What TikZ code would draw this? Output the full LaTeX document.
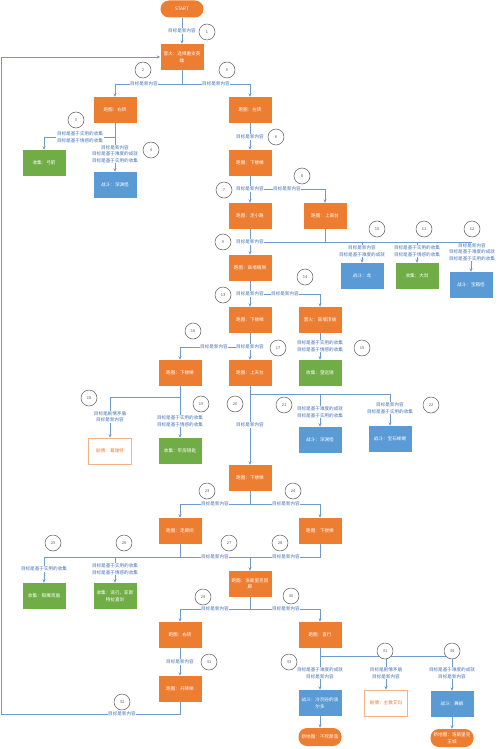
\documentclass[tikz,border=0pt]{standalone}
\usepackage{fontspec}
\setmainfont{Noto Sans CJK SC}
\usetikzlibrary{arrows.meta}
\definecolor{orC}{RGB}{237,125,49}
\definecolor{grC}{RGB}{112,173,71}
\definecolor{blC}{RGB}{91,155,213}
\definecolor{plC}{RGB}{244,177,131}
\definecolor{lnC}{RGB}{110,155,205}
\definecolor{labC}{RGB}{70,115,180}
\definecolor{numC}{RGB}{90,90,90}
\begin{document}
\begin{tikzpicture}[x=1pt,y=-1pt,
 base/.style={rectangle, minimum width=43pt, minimum height=26pt, inner sep=1pt, align=center, font=\fontsize{4.6}{6.5}\selectfont, text=white},
 obox/.style={base, fill=orC},
 gbox/.style={base, fill=grC},
 bbox/.style={base, fill=blC},
 pbox/.style={base, fill=white, draw=plC, line width=0.6pt, text=orC},
 stad/.style={base, fill=orC, rounded corners=8.5pt, minimum height=17pt},
 lab/.style={fill=white, inner sep=0.6pt, align=center, font=\fontsize{4.6}{6.5}\selectfont, text=labC},
 num/.style={circle, draw=numC, line width=0.5pt, minimum size=16pt, inner sep=0pt, font=\fontsize{4}{4}\selectfont, text=numC, fill=white},
 ln/.style={draw=lnC, line width=0.6pt},
 ar/.style={ln, -{Stealth[length=3.5pt,width=3pt]}},
]
\useasboundingbox (0,0) rectangle (500,749);
% nodes
\node[stad] (start) at (182,9) {START};
\node[obox] (yh) at (182,57) {营火：选择重支英\\雄};
\node[obox] (rz1) at (115,110) {跑图：右转};
\node[obox] (zz) at (250,110) {跑图：左转};
\node[gbox] (gj) at (44,163) {收集：弓箭};
\node[bbox] (sy1) at (115,185) {战斗：深渊怪};
\node[obox] (xlt1) at (250,163) {跑图：下楼梯};
\node[obox] (zxl) at (250,216) {跑图：走小路};
\node[obox] (sgt) at (325,216) {跑图：上高台};
\node[bbox] (long) at (362,276) {战斗：龙};
\node[gbox] (dj) at (417,276) {收集：大剑};
\node[bbox] (bxg) at (471,285) {战斗：宝箱怪};
\node[obox] (gqfx) at (250,268) {跑图：高墙缝隙};
\node[obox] (xlt2) at (250,320) {跑图：下楼梯};
\node[obox] (gqdd) at (320,320) {营火：高墙顶端};
\node[gbox] (wyj) at (320,373) {收集：望远镜};
\node[obox] (xlt3) at (180,373) {跑图：下楼梯};
\node[obox] (std) at (250,373) {跑图：上天台};
\node[pbox] (jq1) at (110,451) {剧情：葛瑞特};
\node[gbox] (yc) at (180,451) {收集：牢房钥匙};
\node[bbox] (sy2) at (320,440) {战斗：深渊怪};
\node[bbox] (bsxy) at (390,439) {战斗：宝石蜥蜴};
\node[obox] (xlt4) at (250,478) {跑图：下楼梯};
\node[obox] (zlj) at (180,531) {跑图：走廊间};
\node[obox] (xlt5) at (320,531) {跑图：下楼梯};
\node[gbox] (yd) at (44,596) {收集：银鹰鸢盾};
\node[gbox] (lr) at (115,596) {收集：浪刃、亚斯\\特拉直剑};
\node[obox] (hl) at (250,584) {跑图：洛斯里克回\\廊};
\node[obox] (rz2) at (180,635) {跑图：右转};
\node[obox] (zx) at (320,635) {跑图：直行};
\node[obox] (sjt) at (180,689) {跑图：升降梯};
\node[bbox] (bed) at (320,703) {战斗：冷冽谷的波\\尔多};
\node[pbox] (emma) at (386,703) {剧情：主教艾玛};
\node[bbox] (wn) at (452,704) {战斗：舞娘};
\node[stad, minimum height=18pt] (ud) at (320,737) {新地图：不死聚落};
\node[stad, minimum height=18pt] (lc) at (452,738) {新地图：洛斯里克\\王城};
% junctions
\coordinate (j2) at (182,84);
\coordinate (j3) at (115,137);
\coordinate (j6) at (250,189);
\coordinate (j7) at (250,242);
\coordinate (j9) at (250,294);
\coordinate (j11) at (250,347);
\coordinate (j12) at (180,397);
\coordinate (j13) at (250,394);
\coordinate (j14) at (250,504);
\coordinate (j15) at (180,557);
\coordinate (k15) at (250,557);
\coordinate (j16) at (250,609);
\coordinate (j19) at (320,656);
\coordinate (f1) at (180,714);
\coordinate (f2) at (1.5,714);
\coordinate (f3) at (1.5,57);
% connectors
\draw[ar] (start) -- (yh);
\draw[ln] (yh.south) -- (j2);
\draw[ar] (j2) -| (rz1.north);
\draw[ar] (j2) -| (zz.north);
\draw[ar] (rz1.south) -- (sy1.north);
\draw[ar] (j3) -| (gj.north);
\draw[ar] (zz) -- (xlt1);
\draw[ar] (xlt1) -- (zxl);
\draw[ar] (j6) -| (sgt.north);
\draw[ar] (zxl) -- (gqfx);
\draw[ln] (sgt.south) -- (sgt.south |- j7);
\draw[ar] (j7) -| (long.north);
\draw[ar] (j7) -| (dj.north);
\draw[ar] (j7) -| (bxg.north);
\draw[ar] (gqfx) -- (xlt2);
\draw[ar] (j9) -| (gqdd.north);
\draw[ar] (gqdd) -- (wyj);
\draw[ar] (xlt2) -- (std);
\draw[ar] (j11) -| (xlt3.north);
\draw[ar] (xlt3) -- (yc);
\draw[ar] (j12) -| (jq1.north);
\draw[ar] (std) -- (xlt4);
\draw[ar] (j13) -| (sy2.north);
\draw[ar] (j13) -| (bsxy.north);
\draw[ln] (xlt4.south) -- (j14);
\draw[ar] (j14) -| (zlj.north);
\draw[ar] (j14) -| (xlt5.north);
\draw[ln] (zlj.south) -- (j15);
\draw[ar] (j15) -| (yd.north);
\draw[ar] (j15) -| (lr.north);
\draw[ar] (j15) -| (hl.north);
\draw[ln] (xlt5.south) |- (k15);
\draw[ln] (hl.south) -- (j16);
\draw[ar] (j16) -| (rz2.north);
\draw[ar] (j16) -| (zx.north);
\draw[ar] (rz2) -- (sjt);
\draw[ar] (sjt.south) -- (f1) -- (f2) -- (f3) -- (yh.west);
\draw[ar] (zx) -- (bed);
\draw[ar] (j19) -| (emma.north);
\draw[ar] (j19) -| (wn.north);
\draw[ar] (bed) -- (ud);
\draw[ar] (wn) -- (lc);
% labels
\node[lab] (l1) at (182,31) {目标是新内容};
\node[lab] (l2a) at (144,84) {目标是新内容};
\node[lab] (l2b) at (216,84) {目标是新内容};
\node[lab] (l3) at (80,137) {目标是基于实用的收集\\目标是基于情感的收集};
\node[lab] (l4) at (115,154) {目标是新内容\\目标是基于难度的成就\\目标是基于实用的收集};
\node[lab] (l6) at (250,137) {目标是新内容};
\node[lab] (l7) at (250,189) {目标是新内容};
\node[lab] (l8) at (287,189) {目标是新内容};
\node[lab] (l9) at (250,242) {目标是新内容};
\node[lab] (l10) at (362,251) {目标是新内容\\目标是基于难度的成就};
\node[lab] (l11) at (417,251) {目标是基于实用的收集\\目标是基于情感的收集};
\node[lab] (l12) at (472,252) {目标是新内容\\目标是基于难度的成就\\目标是基于实用的收集};
\node[lab] (l13) at (250,294) {目标是新内容};
\node[lab] (l14) at (285,294) {目标是新内容};
\node[lab] (l15) at (320,346) {目标是基于实用的收集\\目标是基于情感的收集};
\node[lab] (l16) at (214,347) {目标是新内容};
\node[lab] (l17) at (250,347) {目标是新内容};
\node[lab] (l18) at (110,417) {目标是剧情矛盾\\目标是新内容};
\node[lab] (l19) at (180,421) {目标是基于实用的收集\\目标是基于情感的收集};
\node[lab] (l21) at (320,412) {目标是基于难度的成就\\目标是基于实用的收集};
\node[lab] (l22) at (390,408) {目标是新内容\\目标是基于实用的收集};
\node[lab] (l20) at (250,425) {目标是新内容};
\node[lab] (l23) at (215,504) {目标是新内容};
\node[lab] (l24) at (286,504) {目标是新内容};
\node[lab] (l25) at (44,569) {目标是基于实用的收集};
\node[lab] (l26) at (115,569) {目标是基于实用的收集\\目标是基于情感的收集};
\node[lab] (l27) at (215,557) {目标是新内容};
\node[lab] (l28) at (286,557) {目标是新内容};
\node[lab] (l29) at (215,609) {目标是新内容};
\node[lab] (l30) at (286,609) {目标是新内容};
\node[lab] (l31) at (180,662) {目标是新内容};
\node[lab] (l32) at (122,714) {目标是新内容};
\node[lab] (l33) at (320,673) {目标是基于难度的成就\\目标是新内容};
\node[lab] (l31b) at (386,673) {目标是剧情矛盾\\目标是新内容};
\node[lab] (l34) at (452,673) {目标是基于难度的成就\\目标是新内容};
% numbers
\node[num] (n1) at (207,32) {1};
\node[num] (n2) at (143,70) {2};
\node[num] (n5) at (227,70) {5};
\node[num] (n3) at (76,120) {3};
\node[num] (n4) at (151,150) {4};
\node[num] (n6) at (276,137) {6};
\node[num] (n7) at (224,190) {7};
\node[num] (n8) at (302,176) {8};
\node[num] (n9) at (223,242) {9};
\node[num] (n10) at (377,229) {10};
\node[num] (n11) at (424,229) {11};
\node[num] (n12) at (472,229) {12};
\node[num] (n13) at (223,295) {13};
\node[num] (n14) at (305,277) {14};
\node[num] (n15) at (362,348) {15};
\node[num] (n16) at (193,331) {16};
\node[num] (n17) at (278,348) {17};
\node[num] (n18) at (89,398) {18};
\node[num] (n19) at (201,404) {19};
\node[num] (n20) at (235,404) {20};
\node[num] (n21) at (284,405) {21};
\node[num] (n22) at (431,405) {22};
\node[num] (n23) at (207,491) {23};
\node[num] (n24) at (293,491) {24};
\node[num] (n25) at (53,543) {25};
\node[num] (n26) at (124,543) {26};
\node[num] (n27) at (229,543) {27};
\node[num] (n28) at (280,543) {28};
\node[num] (n29) at (203,597) {29};
\node[num] (n30) at (291,596) {30};
\node[num] (n31) at (209,662) {31};
\node[num] (n32) at (122,702) {32};
\node[num] (n33) at (289,662) {33};
\node[num] (n31b) at (385,651) {31};
\node[num] (n34) at (452,651) {34};
\end{tikzpicture}
\end{document}
